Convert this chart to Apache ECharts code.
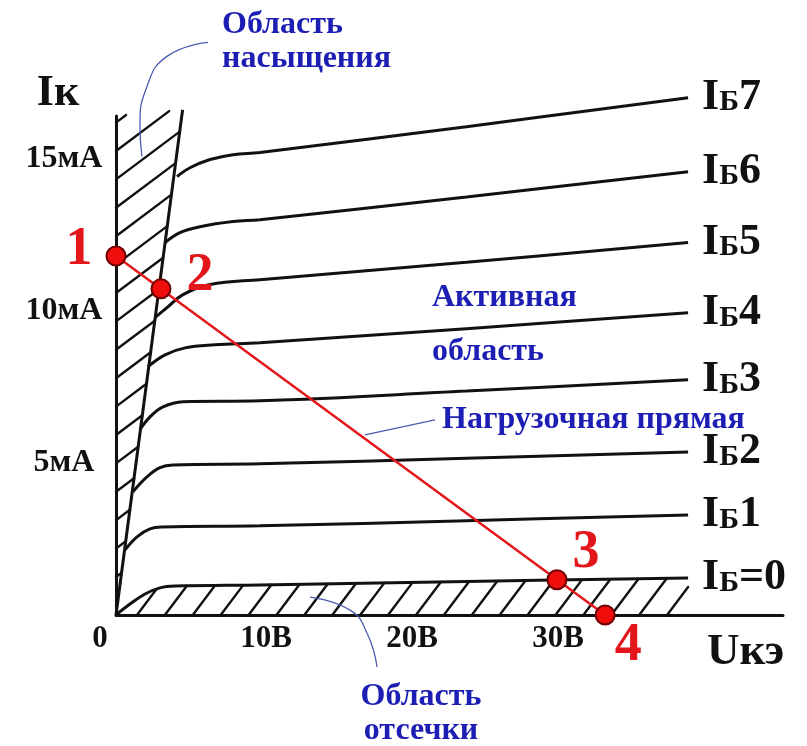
<!DOCTYPE html>
<html>
<head>
<meta charset="utf-8">
<script src="https://cdn.jsdelivr.net/npm/echarts@6/dist/echarts.min.js"></script>
<style>
  html, body { margin: 0; padding: 0; background: #fff; }
  #chart { width: 807px; height: 746px; }
</style>
</head>
<body>
<div id="chart"></div>
<script>
// ---- data (U in volts, I in milliamps) ----
const uTicks = [0, 10, 20, 30];
const iTicks = [5, 10, 15];
const curveNames = ['7', '6', '5', '4', '3', '2', '1', '=0'];

const ib7 = [[4.18, 14.41], [5.07, 14.70], [6.44, 14.97], [8.01, 15.13], [9.86, 15.20], [24.0, 16.05], [39.18, 17.00]];
const ib6 = [[3.36, 12.24], [4.38, 12.57], [5.75, 12.76], [8.01, 12.93], [9.86, 12.99], [24.0, 13.74], [39.18, 14.57]];
const ib5 = [[2.67, 9.77], [3.49, 10.10], [4.59, 10.53], [6.44, 10.86], [9.86, 11.02], [24.0, 11.59], [39.18, 12.24]];
const ib4 = [[2.19, 8.16], [3.36, 8.55], [4.73, 8.78], [6.78, 8.88], [9.86, 8.95], [24.0, 9.41], [39.18, 9.93]];
const ib3 = [[1.64, 6.09], [2.33, 6.51], [3.22, 6.84], [4.59, 7.01], [9.86, 7.04], [24.0, 7.36], [39.18, 7.73]];
const ib2 = [[1.16, 4.05], [2.12, 4.54], [3.01, 4.84], [3.90, 4.93], [9.86, 4.97], [24.0, 5.15], [39.18, 5.36]];
const ib1 = [[0.62, 2.14], [1.44, 2.57], [2.33, 2.83], [3.22, 2.89], [9.86, 2.93], [24.0, 3.10], [39.18, 3.29]];
const ib0 = [[0, 0], [0.96, 0.36], [1.99, 0.69], [3.01, 0.89], [4.04, 0.95], [9.86, 0.99], [24.0, 1.10], [39.18, 1.22]];
const curves = [ib7, ib6, ib5, ib4, ib3, ib2, ib1, ib0];

// saturation boundary and region
const satEdge = [[0, 0], [4.56, 16.6]];
const satRegion = [[0, 0], [0, 16.4], [4.56, 16.6]];
// cut-off region: under the Iб=0 curve
const cutRegion = ib0.concat([[39.18, 0]]);

// load line and its marked points
const loadLine = [[0, 11.8], [33.5, 0]];
const pointNames = ['1', '2', '3', '4'];
const opPoints = [[0, 11.8], [3.08, 10.72], [30.2, 1.16], [33.5, 0]];

// leader lines for the region captions
const satLeader = [[6.30, 18.82], [3.49, 18.36], [2.12, 17.37], [1.64, 16.05], [1.78, 15.07]];
const cutLeader = [[13.29, 0.59], [16.03, 0.16], [17.19, -0.59], [17.88, -1.71]];
const loadLeader = [[17.05, 5.92], [21.85, 6.41]];

// ---- drawing ----
const SERIF = '"Liberation Serif", "Times New Roman", serif';
const INK = '#111';
const RED = '#e3161b';
const BLUE = '#1c1eb4';
const LEADER = '#4b5bb0';

// Clip a family of parallel lines to a polygon (pixel space).
function hatchSegments(poly, dir, step, phasePoint) {
  const len = Math.hypot(dir[0], dir[1]);
  const d = [dir[0] / len, dir[1] / len];
  const n = [-d[1], d[0]];
  const proj = poly.map(p => p[0] * n[0] + p[1] * n[1]);
  const spacing = Math.abs(step[0] * n[0] + step[1] * n[1]);
  const c0 = phasePoint[0] * n[0] + phasePoint[1] * n[1];
  const cmin = Math.min.apply(null, proj), cmax = Math.max.apply(null, proj);
  const segs = [];
  for (let k = Math.ceil((cmin - c0) / spacing); k <= Math.floor((cmax - c0) / spacing); k++) {
    const c = c0 + k * spacing;
    const hits = [];
    for (let i = 0; i < poly.length; i++) {
      const j = (i + 1) % poly.length;
      const pa = proj[i] - c, pb = proj[j] - c;
      if ((pa < 0) !== (pb < 0)) {
        const t = pa / (pa - pb);
        const x = poly[i][0] + (poly[j][0] - poly[i][0]) * t;
        const y = poly[i][1] + (poly[j][1] - poly[i][1]) * t;
        hits.push([x, y, x * d[0] + y * d[1]]);
      }
    }
    hits.sort((a, b) => a[2] - b[2]);
    for (let m = 0; m + 1 < hits.length; m += 2) segs.push([hits[m], hits[m + 1]]);
  }
  return segs;
}

function hatchSeries(region, dir, step, phaseOffset) {
  return {
    type: 'custom',
    coordinateSystem: 'cartesian2d',
    silent: true,
    clip: false,
    z: 1,
    data: [[0, 0]],
    renderItem: function (params, api) {
      const poly = region.map(p => api.coord(p));
      const o = api.coord([0, 0]);
      const phase = [o[0] + phaseOffset[0], o[1] + phaseOffset[1]];
      const segs = hatchSegments(poly, dir, step, phase);
      return {
        type: 'group',
        children: segs.map(s => ({
          type: 'line',
          shape: { x1: s[0][0], y1: s[0][1], x2: s[1][0], y2: s[1][1] },
          style: { stroke: INK, lineWidth: 2.4, lineCap: 'round' }
        }))
      };
    }
  };
}

const labelRich = {
  i: { fontFamily: SERIF, fontWeight: 'bold', fontSize: 44, color: INK, verticalAlign: 'bottom' },
  b: { fontFamily: SERIF, fontWeight: 'bold', fontSize: 30, color: INK, verticalAlign: 'bottom', padding: [0, 0, 2, 0] }
};

const curveSeries = curves.map((pts, idx) => ({
  type: 'line',
  name: 'Iб' + curveNames[idx],
  data: pts,
  smooth: 0.4,
  symbol: 'none',
  clip: false,
  silent: true,
  z: 3,
  lineStyle: { color: INK, width: 3 },
  endLabel: {
    show: true,
    distance: 14,
    formatter: () => '{i|I}{b|Б}{i|' + curveNames[idx] + '}',
    rich: labelRich
  }
}));

const pointLabelOffsets = [[-37, -6], [39, -13], [29, -27], [23, 31]];

function leaderSeries(pts) {
  return {
    type: 'line', data: pts, smooth: 0.5, symbol: 'none', clip: false, silent: true, z: 2,
    lineStyle: { color: LEADER, width: 1.3 }
  };
}

const chart = echarts.init(document.getElementById('chart'), null, { renderer: 'canvas' });

chart.setOption({
  animation: false,
  backgroundColor: '#fff',
  grid: { left: 116, top: 116, right: 24, bottom: 131 },
  xAxis: {
    type: 'value', min: 0, max: 45.68, interval: 10,
    axisLine: { show: true, onZero: false, lineStyle: { color: INK, width: 3 } },
    axisTick: { show: false },
    splitLine: { show: false },
    axisLabel: {
      margin: 8,
      showMaxLabel: false,
      formatter: v => uTicks.indexOf(v) < 0 ? '' : (v === 0 ? '{z|0}' : '{t|' + v + 'В}'),
      rich: {
        z: { fontFamily: SERIF, fontWeight: 'bold', fontSize: 31, color: INK, padding: [0, 32, 0, 0] },
        t: { fontFamily: SERIF, fontWeight: 'bold', fontSize: 31, color: INK, padding: [0, 0, 0, 8] }
      }
    }
  },
  yAxis: {
    type: 'value', min: 0, max: 16.4, interval: 5,
    axisLine: { show: true, onZero: false, lineStyle: { color: INK, width: 3 } },
    axisTick: { show: false },
    splitLine: { show: false },
    axisLabel: {
      margin: 52,
      align: 'center',
      showMaxLabel: false,
      fontFamily: SERIF, fontWeight: 'bold', fontSize: 32, color: INK,
      formatter: v => iTicks.indexOf(v) < 0 ? '' : v + 'мА'
    }
  },
  series: [
    // saturation region hatch: lines rising to the right, stepped along the I axis
    hatchSeries(satRegion, [1, -0.75], [0, 28.4], [0, -38]),
    // cut-off region hatch: steeper lines stepped along the U axis
    hatchSeries(cutRegion, [1, -1.33], [27.9, 0], [21, 0]),
    {
      type: 'line', data: satEdge, symbol: 'none', clip: false, silent: true, z: 3,
      lineStyle: { color: INK, width: 3 }
    }
  ].concat(curveSeries).concat([
    leaderSeries(satLeader),
    leaderSeries(cutLeader),
    leaderSeries(loadLeader),
    {
      type: 'line', data: loadLine, symbol: 'none', clip: false, silent: true, z: 4,
      lineStyle: { color: RED, width: 2.5 }
    },
    {
      type: 'scatter', clip: false, silent: true, z: 5,
      symbol: 'circle', symbolSize: 19,
      itemStyle: { color: '#f20d0d', borderColor: '#6e0000', borderWidth: 2, opacity: 1 },
      data: opPoints.map((p, i) => ({
        value: p,
        label: {
          show: true, position: 'inside', offset: pointLabelOffsets[i],
          formatter: pointNames[i],
          fontFamily: SERIF, fontWeight: 'bold', fontSize: 54, color: RED
        }
      }))
    }
  ]),
  graphic: [
    { type: 'text', x: 58, y: 94, style: { text: 'Iк', font: 'bold 44px ' + SERIF, fill: INK, align: 'center', verticalAlign: 'middle' } },
    { type: 'text', x: 707, y: 652, style: { text: 'Uкэ', font: 'bold 45px ' + SERIF, fill: INK, align: 'left', verticalAlign: 'middle' } },
    { type: 'text', x: 222, y: 25, style: { text: 'Область', font: 'bold 32px ' + SERIF, fill: BLUE, align: 'left', verticalAlign: 'middle' } },
    { type: 'text', x: 222, y: 59, style: { text: 'насыщения', font: 'bold 32px ' + SERIF, fill: BLUE, align: 'left', verticalAlign: 'middle' } },
    { type: 'text', x: 432, y: 298, style: { text: 'Активная', font: 'bold 32px ' + SERIF, fill: BLUE, align: 'left', verticalAlign: 'middle' } },
    { type: 'text', x: 432, y: 352, style: { text: 'область', font: 'bold 32px ' + SERIF, fill: BLUE, align: 'left', verticalAlign: 'middle' } },
    { type: 'text', x: 442, y: 420, style: { text: 'Нагрузочная прямая', font: 'bold 32px ' + SERIF, fill: BLUE, align: 'left', verticalAlign: 'middle' } },
    { type: 'text', x: 421, y: 697, style: { text: 'Область', font: 'bold 32px ' + SERIF, fill: BLUE, align: 'center', verticalAlign: 'middle' } },
    { type: 'text', x: 421, y: 731, style: { text: 'отсечки', font: 'bold 32px ' + SERIF, fill: BLUE, align: 'center', verticalAlign: 'middle' } }
  ]
});
</script>
</body>
</html>
